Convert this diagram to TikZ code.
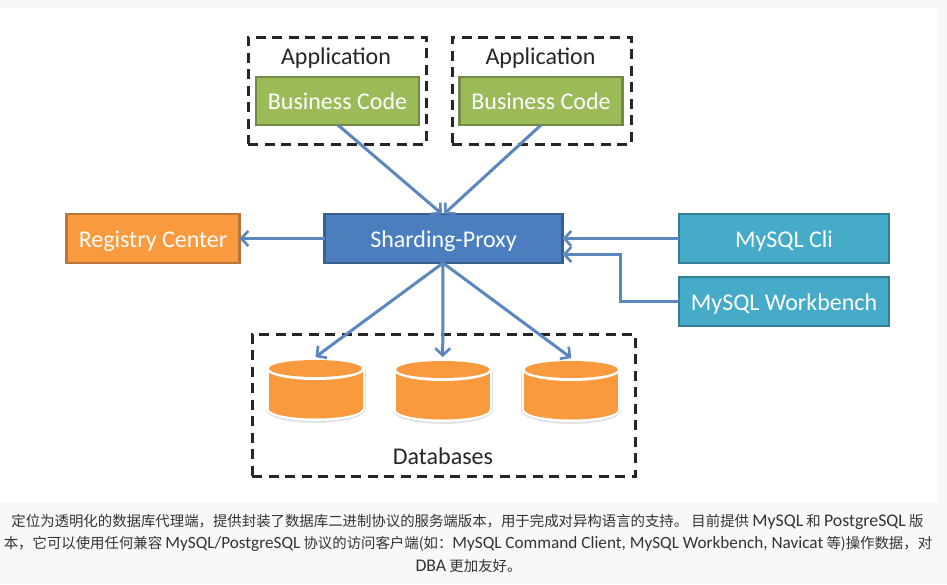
\documentclass[tikz,border=0pt]{standalone}
\usepackage{fontspec}
\setmainfont{Carlito}
\newfontfamily\cjk{Noto Sans CJK SC}
\newfontfamily\lat{Carlito}
\newcommand{\capl}[1]{{\lat\fontsize{17.8}{16}\selectfont #1}}
\newcommand{\capm}[1]{{\lat\fontsize{17.2}{16}\selectfont #1}}
\usetikzlibrary{arrows.meta,shadows}
\definecolor{pagegray}{HTML}{F8F8F8}
\definecolor{gfill}{HTML}{9BBB59}\definecolor{gline}{HTML}{728A42}
\definecolor{bfill}{HTML}{4A7EBE}\definecolor{bline}{HTML}{37608F}
\definecolor{ofill}{HTML}{FA9A3E}\definecolor{oline}{HTML}{B9753A}
\definecolor{tfill}{HTML}{46ABC8}\definecolor{tline}{HTML}{337F95}
\definecolor{arrowblue}{HTML}{5A87BE}
\definecolor{captext}{HTML}{333333}
\definecolor{dbshadow}{HTML}{E2E2E2}
\tikzset{
  x=1pt,y=-1pt,
  box/.style={draw=#1,line width=2.8pt,anchor=north west,inner sep=0pt,outer sep=0pt,text=white,font=\fontsize{24}{26}\selectfont,
     text height=17pt,text depth=0pt,
     drop shadow={opacity=.18,shadow xshift=0pt,shadow yshift=-1pt}},
  dashbox/.style={draw=black!85,line width=3pt,dash pattern=on 10pt off 6.5pt,anchor=north west,inner sep=0pt,outer sep=0pt},
  blacklabel/.style={text=black!85,font=\fontsize{24}{26}\selectfont,inner sep=0pt,text height=17pt,text depth=0pt},
  link/.style={draw=arrowblue,line width=3pt,-{Straight Barb[length=7pt,width=15pt,line width=2.6pt]}},
  dbanchor/.style={minimum width=95pt,minimum height=66pt,inner sep=0pt,outer sep=0pt},
  capline/.style={font=\cjk\fontsize{14.4}{16}\selectfont,text=captext,inner sep=0pt},
}
% #1 centre x, #2 centre y of the top cap
\newcommand{\dbcyl}[2]{%
  \begin{scope}[shift={(#1,#2)}]
    \fill[dbshadow] (0,1.5) ellipse [x radius=50,y radius=12];
    \fill[dbshadow] (-50,1.5) rectangle (50,41);
    \fill[dbshadow] (0,41) ellipse [x radius=50,y radius=13.5];
    \fill[white] (0,0) ellipse [x radius=49.5,y radius=11.5];
    \fill[white] (-49.5,0) rectangle (49.5,40);
    \fill[white] (0,40) ellipse [x radius=49.5,y radius=12.5];
    \fill[ofill] (-47,1) rectangle (47,40);
    \fill[ofill] (0,40) ellipse [x radius=47,y radius=10];
    \fill[white] (0,0.5) ellipse [x radius=49,y radius=11];
    \fill[ofill] (0,0) ellipse [x radius=46.5,y radius=8.5];
  \end{scope}}
\begin{document}
\begin{tikzpicture}
\useasboundingbox (0,0) rectangle (947,584);
\fill[pagegray] (0,0) rectangle (947,584);
\fill[white] (0,8) rectangle (937,503);

% dashed frames
\node[dashbox,minimum width=178pt,minimum height=107pt] (app1) at (248,37) {};
\node[dashbox,minimum width=179pt,minimum height=107pt] (app2) at (452,37) {};
\node[dashbox,minimum width=383pt,minimum height=142pt] (dbs) at (252,334) {};
\node[blacklabel] (app1t) at (336,56) {Application};
\node[blacklabel] (app2t) at (540.5,56) {Application};
\node[blacklabel] (dbst) at (443,456) {Databases};

% boxes
\node[box=gline,fill=gfill,minimum width=163pt,minimum height=48pt] (bc1) at (256,77) {Business Code};
\node[box=gline,fill=gfill,minimum width=163pt,minimum height=48pt] (bc2) at (459.5,77) {Business Code};
\node[box=bline,fill=bfill,minimum width=238pt,minimum height=49pt] (proxy) at (324.5,214) {Sharding-Proxy};
\node[box=oline,fill=ofill,minimum width=173pt,minimum height=49pt] (reg) at (66.5,214) {Registry Center};
\node[box=tline,fill=tfill,minimum width=210pt,minimum height=49pt] (cli) at (679,214) {MySQL Cli};
\node[box=tline,fill=tfill,minimum width=210pt,minimum height=49pt] (wb) at (679,277) {MySQL Workbench};

% databases
\dbcyl{315.5}{368.5}
\dbcyl{442.7}{369.5}
\dbcyl{571.3}{369.5}
\node[dbanchor] (d1) at (315.5,390) {};
\node[dbanchor] (d2) at (442.7,390) {};
\node[dbanchor] (d3) at (571.3,391) {};

% connectors
\coordinate (pt1) at (442,214);
\coordinate (pt2) at (444,214);
\coordinate (pb) at (443,263);
\coordinate (pcli) at (562.5,238.5);
\coordinate (pwb) at (562.5,254.5);
\coordinate (bend1) at (620,301.5);
\coordinate (bend2) at (620,254.5);
\coordinate (bc1out) at (338,125);
\coordinate (bc2out) at (541,125);
\draw[link] (bc1out) -- (pt1);
\draw[link] (bc2out) -- (pt2);
\draw[link] (pb) -- (d1.north);
\draw[link] (pb) -- (d2.north);
\draw[link] (pb) -- (d3.north);
\draw[link] (proxy.west) -- (reg.east);
\draw[link] (cli.west) -- (pcli);
\draw[link] (wb.west) -- (bend1) -- (bend2) -- (pwb);

% caption
\node[capline] (cap1) at (467.5,522) {定位为透明化的数据库代理端，提供封装了数据库二进制协议的服务端版本，用于完成对异构语言的支持。 目前提供 \capl{MySQL} 和 \capl{PostgreSQL} 版};
\node[capline] (cap2) at (468,544) {本，它可以使用任何兼容 \capm{MySQL/PostgreSQL} 协议的访问客户端(如：\capm{MySQL Command Client, MySQL Workbench, Navicat} 等)操作数据，对};
\node[capline] (cap3) at (468.5,566) {\capl{DBA} 更加友好。};
\end{tikzpicture}
\end{document}
